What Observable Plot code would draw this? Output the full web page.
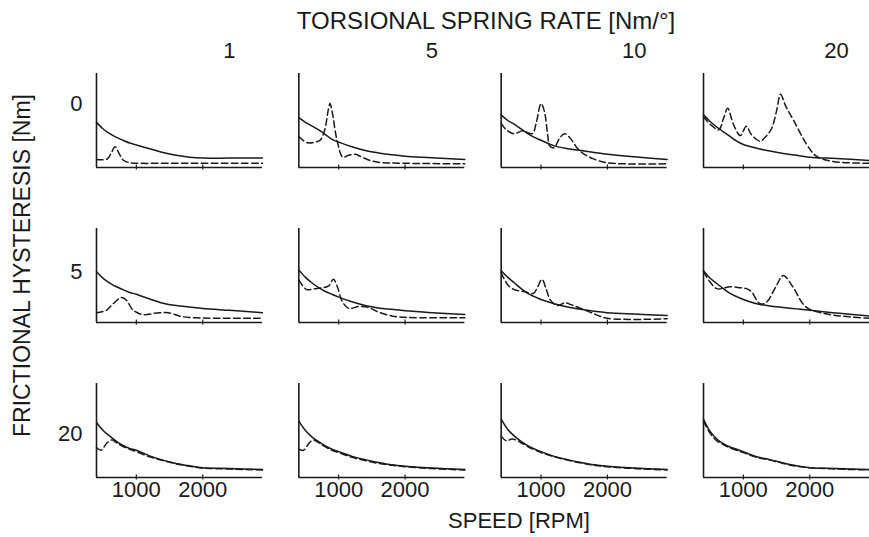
<!DOCTYPE html>
<html><head><meta charset="utf-8">
<script src="https://cdn.jsdelivr.net/npm/d3@7"></script>
<script src="https://cdn.jsdelivr.net/npm/@observablehq/plot@0.6"></script>
<style>
html,body{margin:0;padding:0;background:#fff;}
#chart svg{display:block;}
</style></head><body><div id="chart"></div>
<script>
// Facet categories
const springRates = [1, 5, 10, 20];        // torsional spring rate [Nm/°] (columns)
const hysteresis = [0, 5, 20];             // frictional hysteresis [Nm] (rows)
const xTicks = [1000, 2000];
const titleText = "TORSIONAL SPRING RATE [Nm/°]";
const yLabelText = "FRICTIONAL HYSTERESIS [Nm]";
const xLabelText = "SPEED [RPM]";

// Solid curves sampled on rpmGrid, one array per spring rate
const rpmGrid = [400, 500, 600, 700, 800, 900, 1000, 1200, 1400, 1600, 1800, 2000, 2400, 2900];
const solidH0 = [
  [4.8, 4.1, 3.6, 3.2, 2.9, 2.6, 2.4, 2.0, 1.6, 1.3, 1.1, 1.0, 1.0, 1.0],
  [5.3, 4.8, 4.4, 4.0, 3.5, 3.0, 2.7, 2.2, 1.8, 1.55, 1.35, 1.2, 1.05, 0.85],
  [5.6, 5.0, 4.6, 4.1, 3.6, 3.2, 2.9, 2.3, 2.0, 1.8, 1.6, 1.4, 1.15, 0.85],
  [5.6, 4.9, 4.3, 3.8, 3.3, 2.8, 2.45, 2.05, 1.75, 1.5, 1.3, 1.1, 0.95, 0.75]
];
const solidH5 = [
  [5.4, 4.7, 4.2, 3.8, 3.5, 3.2, 3.0, 2.5, 2.05, 1.8, 1.65, 1.5, 1.3, 1.05],
  [5.6, 4.8, 4.2, 3.7, 3.3, 3.0, 2.7, 2.2, 1.8, 1.55, 1.4, 1.25, 1.05, 0.85],
  [5.5, 4.8, 4.2, 3.6, 3.1, 2.75, 2.45, 2.0, 1.65, 1.4, 1.2, 1.05, 0.9, 0.75],
  [5.5, 4.7, 4.15, 3.6, 3.1, 2.75, 2.45, 2.0, 1.75, 1.6, 1.45, 1.3, 1.0, 0.7]
];
const solidH20 = [
  [5.85, 5.0, 4.4, 3.85, 3.4, 3.1, 2.9, 2.3, 1.85, 1.5, 1.25, 1.05, 0.95, 0.85],
  [6.0, 5.0, 4.3, 3.8, 3.35, 3.0, 2.75, 2.25, 1.9, 1.6, 1.35, 1.2, 1.0, 0.85],
  [6.2, 5.1, 4.4, 3.85, 3.4, 3.05, 2.75, 2.25, 1.9, 1.6, 1.35, 1.2, 1.0, 0.85],
  [6.2, 4.9, 4.1, 3.6, 3.25, 3.0, 2.75, 2.2, 1.9, 1.55, 1.25, 1.05, 0.95, 0.85]
];

// Dashed (measured) curves: [rpm, value] pairs, one array per spring rate
const dashH0 = [
  [[400,0.85],[560,0.9],[620,1.5],[680,2.2],[740,1.5],[800,0.8],[900,0.5],[1000,0.45],[1500,0.45],[2000,0.45],[2900,0.45]],
  [[400,3.3],[480,2.8],[560,2.6],[640,2.7],[720,2.9],[790,4.0],[840,6.0],[870,6.8],[900,6.0],[950,3.8],[985,2.6],[1060,1.1],[1150,1.3],[1250,1.4],[1350,1.1],[1475,0.75],[1600,0.55],[2000,0.45],[2900,0.4]],
  [[400,4.7],[480,4.0],[590,3.6],[725,3.9],[870,3.6],[930,4.8],[1000,6.8],[1050,6.0],[1100,3.5],[1130,2.3],[1200,2.1],[1270,3.0],[1350,3.6],[1430,3.2],[1565,1.9],[1680,1.3],[1780,0.95],[2000,0.5],[2900,0.4]],
  [[400,5.4],[500,4.6],[630,4.0],[700,5.2],[765,6.3],[850,4.6],[955,3.4],[1045,4.4],[1120,3.5],[1250,2.8],[1340,3.3],[1425,4.15],[1500,6.0],[1560,7.8],[1640,6.5],[1765,4.9],[1955,2.45],[2100,1.2],[2350,0.65],[2900,0.45]]
];
const dashH5 = [
  [[400,1.05],[550,1.3],[650,2.0],[780,2.65],[860,2.3],[940,1.4],[1090,0.85],[1300,1.0],[1480,1.05],[1670,0.65],[1900,0.5],[2900,0.45]],
  [[400,4.5],[450,4.0],[520,3.5],[640,3.6],[760,3.7],[850,3.9],[920,4.6],[980,3.8],[1050,2.3],[1150,1.5],[1300,1.7],[1450,1.6],[1600,1.1],[1800,0.7],[2000,0.55],[2900,0.5]],
  [[400,5.3],[500,4.0],[595,3.5],[740,3.3],[885,3.1],[950,3.8],[1015,4.6],[1080,3.5],[1145,2.35],[1250,1.8],[1360,2.1],[1450,1.9],[1565,1.6],[1755,1.05],[2000,0.45],[2900,0.4]],
  [[400,5.4],[500,4.3],[600,3.6],[805,3.8],[950,3.7],[1045,3.6],[1120,3.3],[1250,2.0],[1340,2.1],[1490,3.8],[1600,5.0],[1745,3.8],[1895,2.0],[2000,1.4],[2300,0.85],[2600,0.6],[2900,0.45]]
];
const dashH20 = [
  [[400,3.2],[470,2.9],[560,3.7],[640,4.0],[700,3.7],[800,3.3],[900,3.0],[1000,2.75],[1200,2.2],[1400,1.8],[1600,1.45],[1800,1.2],[2000,1.0],[2400,0.9],[2900,0.8]],
  [[400,3.0],[470,2.9],[560,3.7],[620,4.0],[700,3.7],[800,3.25],[900,2.9],[1000,2.65],[1200,2.15],[1400,1.8],[1600,1.5],[1800,1.3],[2000,1.15],[2400,0.95],[2900,0.8]],
  [[400,4.4],[480,3.9],[560,4.1],[620,4.0],[700,3.7],[800,3.3],[900,2.95],[1000,2.65],[1200,2.2],[1400,1.85],[1600,1.55],[1800,1.3],[2000,1.15],[2400,0.95],[2900,0.8]],
  [[400,6.0],[500,4.7],[600,3.9],[700,3.5],[800,3.15],[900,2.9],[1000,2.65],[1200,2.15],[1400,1.85],[1600,1.5],[1800,1.2],[2000,1.05],[2400,0.9],[2900,0.8]]
];

// Build tidy tables
const solidRows = [solidH0, solidH5, solidH20];
const dashRows = [dashH0, dashH5, dashH20];
const solidData = hysteresis.flatMap((h, i) => springRates.flatMap((k, j) =>
  rpmGrid.map((rpm, m) => ({h, k, rpm, v: solidRows[i][j][m]}))));
const dashData = hysteresis.flatMap((h, i) => springRates.flatMap((k, j) =>
  dashRows[i][j].map(([rpm, v]) => ({h, k, rpm, v}))));

const font = "'Liberation Sans', Arial, Helvetica, sans-serif";
const ink = "#1a1a1a";
const rowLabelY = new Map([[0, 6.8], [5, 5.4], [20, 4.6]]);

const chart = Plot.plot({
  width: 869,
  height: 537,
  marginTop: 73,
  marginBottom: 60,
  marginLeft: 96,
  marginRight: 0,
  style: {fontFamily: font, color: ink, background: "#fff", overflow: "visible"},
  x: {domain: [400, 2900]},
  y: {domain: [0, 10], axis: null},
  fx: {domain: springRates, paddingInner: 0.1796, paddingOuter: 0, round: false, axis: null},
  fy: {domain: hysteresis, paddingInner: 0.3935, paddingOuter: 0, round: false, axis: null},
  marks: [
    // axis lines
    Plot.ruleY([0], {stroke: ink, strokeWidth: 1.6}),
    Plot.ruleX([400], {stroke: ink, strokeWidth: 1.6}),
    // tick marks on every panel
    Plot.axisX({ticks: xTicks, tickSize: 5, dy: -2.5, tickFormat: () => "", facetAnchor: null, label: null, stroke: ink, strokeWidth: 1.2}),
    // tick labels on bottom row
    Plot.axisX({ticks: xTicks, tickSize: 0, tickPadding: 4, fontSize: 22, label: null, fill: ink, tickFormat: d => String(d)}),
    // curves
    Plot.line(solidData, {x: "rpm", y: "v", fx: "k", fy: "h", curve: "catmull-rom", stroke: ink, strokeWidth: 1.5}),
    Plot.line(dashData, {x: "rpm", y: "v", fx: "k", fy: "h", curve: "catmull-rom", stroke: ink, strokeWidth: 1.5, strokeDasharray: "6.5,3.5"}),
    // column labels
    Plot.text(springRates, {fx: d => d, fy: () => hysteresis[0], text: d => String(d), frameAnchor: "top", lineAnchor: "middle", textAnchor: "middle", dx: 50, dy: -23, fontSize: 22, fill: ink}),
    // row labels
    Plot.text(hysteresis, {fy: d => d, fx: () => springRates[0], y: d => rowLabelY.get(d), text: d => String(d), frameAnchor: "left", textAnchor: "end", lineAnchor: "middle", dx: -14, fontSize: 22, fill: ink}),
    // title & axis labels
    Plot.text([titleText], {facet: "super", text: d => d, frameAnchor: "top", lineAnchor: "middle", textAnchor: "middle", dx: 3, dy: -52, fontSize: 24, fill: ink}),
    Plot.text([xLabelText], {facet: "super", text: d => d, frameAnchor: "bottom", lineAnchor: "middle", textAnchor: "middle", dx: 36, dy: 43, fontSize: 22, fill: ink}),
    Plot.text([yLabelText], {facet: "super", text: d => d, frameAnchor: "left", lineAnchor: "middle", textAnchor: "middle", rotate: -90, dx: -74, dy: -10, fontSize: 23, fill: ink})
  ]
});
document.getElementById("chart").append(chart);
</script>
</body></html>
